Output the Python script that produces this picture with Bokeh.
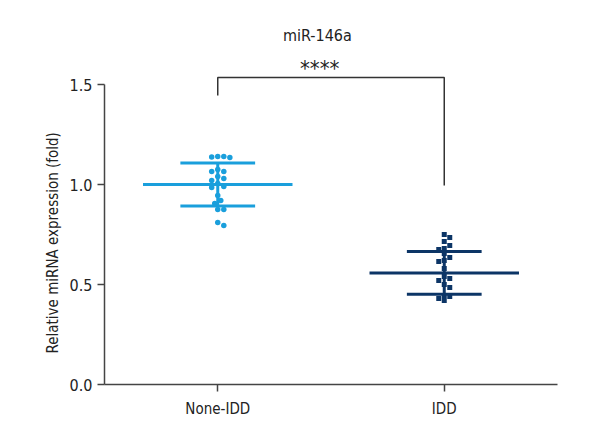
from bokeh.plotting import figure
from bokeh.models import Range1d, FixedTicker, Label, ColumnDataSource
from bokeh.embed import file_html
from bokeh.resources import INLINE

# ---- data ----
categories = ["None-IDD", "IDD"]
none_idd = [1.14, 1.14, 1.135, 1.137, 1.075, 1.065, 1.065, 1.04, 1.02, 1.03,
            1.005, 0.99, 0.985, 0.945, 0.92, 0.905, 0.875, 0.875, 0.81, 0.795]
idd = [0.75, 0.735, 0.715, 0.695, 0.68, 0.675, 0.655, 0.635, 0.62, 0.615,
       0.58, 0.54, 0.53, 0.52, 0.50, 0.485, 0.445, 0.44, 0.43, 0.42]
means = [1.0, 0.558]
sds = [0.107, 0.107]
y_ticks = [0.0, 0.5, 1.0, 1.5]
title_text = "miR-146a"
sig_text = "****"
y_label = "Relative miRNA expression (fold)"

colors = ["#1a9fdc", "#0c3566"]
FONT = "DejaVu Sans Condensed"

W_FRAME, H_FRAME = 453, 360
x0, x1 = -0.5, 1.5
y0, y1 = 0.0, 1.8
pxx = W_FRAME / (x1 - x0)
pxy = H_FRAME / (y1 - y0)


def beeswarm(vals, center, diam_px):
    placed = []
    xs = [None] * len(vals)
    order = sorted(range(len(vals)), key=lambda i: -vals[i])
    for i in order:
        yp = vals[i] * pxy
        k = 0
        while True:
            cands = [0] if k == 0 else [k * diam_px * 0.55, -k * diam_px * 0.55]
            ok = None
            for c in cands:
                if all((c - px) ** 2 + (yp - py) ** 2 >= diam_px ** 2 for px, py in placed):
                    ok = c
                    break
            if ok is not None:
                placed.append((ok, yp))
                xs[i] = center + ok / pxx
                break
            k += 1
    return xs


p = figure(width=596, height=432, output_backend="svg", toolbar_location=None,
           x_range=Range1d(x0, x1), y_range=Range1d(y0, y1),
           frame_width=W_FRAME, frame_height=H_FRAME,
           min_border_left=104, min_border_right=39, min_border_top=24, min_border_bottom=48,
           title=y_label, title_location="left")
p.outline_line_color = None
p.xgrid.visible = False
p.ygrid.visible = False
p.background_fill_color = "white"

# y-axis title as a left-side title, aligned to the drawn part of the axis
p.title.align = "left"
p.title.offset = 31
p.title.text_font = FONT
p.title.text_font_size = "15px"
p.title.text_font_style = "normal"
p.title.text_color = "#222222"

groups = [none_idd, idd]
markers = ["circle", "square"]
sizes = [5.5, 5.0]
for gi, vals in enumerate(groups):
    xs = beeswarm(vals, gi, sizes[gi])
    src = ColumnDataSource(dict(x=xs, y=vals))
    p.scatter("x", "y", source=src, marker=markers[gi], size=sizes[gi],
              fill_color=colors[gi], line_color=None)
    m, s = means[gi], sds[gi]
    p.segment(x0=[gi - 0.33], y0=[m], x1=[gi + 0.33], y1=[m], line_color=colors[gi], line_width=3)
    p.segment(x0=[gi - 0.165, gi - 0.165], y0=[m + s, m - s], x1=[gi + 0.165, gi + 0.165],
              y1=[m + s, m - s], line_color=colors[gi], line_width=3)
    p.segment(x0=[gi], y0=[m - s], x1=[gi], y1=[m + s], line_color=colors[gi], line_width=3)

# significance bracket
p.line(x=[0, 0, 1, 1], y=[1.445, 1.535, 1.535, 0.995], line_color="#333333", line_width=1.5)
p.add_layout(Label(x=0.45, y=1.58, text=sig_text, text_align="center", text_baseline="middle",
                   text_font=FONT, text_font_size="22px", text_color="#222222"))
p.add_layout(Label(x=0.44, y=1.745, text=title_text, text_align="center", text_baseline="middle",
                   text_font=FONT, text_font_size="16px", text_color="#222222"))

# axes
p.xaxis.ticker = FixedTicker(ticks=[0, 1])
p.xaxis.major_label_overrides = {0: categories[0], 1: categories[1]}
p.xaxis.bounds = (x0, x1)
p.yaxis.ticker = FixedTicker(ticks=y_ticks)
p.yaxis.major_label_overrides = {t: f"{t:.1f}" for t in y_ticks}
p.yaxis.bounds = (0, 1.5)
for ax in (p.xaxis[0], p.yaxis[0]):
    ax.axis_line_color = "#444444"
    ax.axis_line_width = 1.5
    ax.major_tick_line_color = "#444444"
    ax.major_tick_line_width = 1.5
    ax.major_tick_out = 7
    ax.major_tick_in = 0
    ax.minor_tick_line_color = None
    ax.major_label_text_font = FONT
    ax.major_label_text_font_size = "16px"
    ax.major_label_text_color = "#222222"
p.xaxis.major_label_text_font_size = "15px"
p.xaxis.major_label_standoff = 8
p.yaxis.major_label_standoff = 5

open("out.html", "w").write(file_html(p, INLINE))
